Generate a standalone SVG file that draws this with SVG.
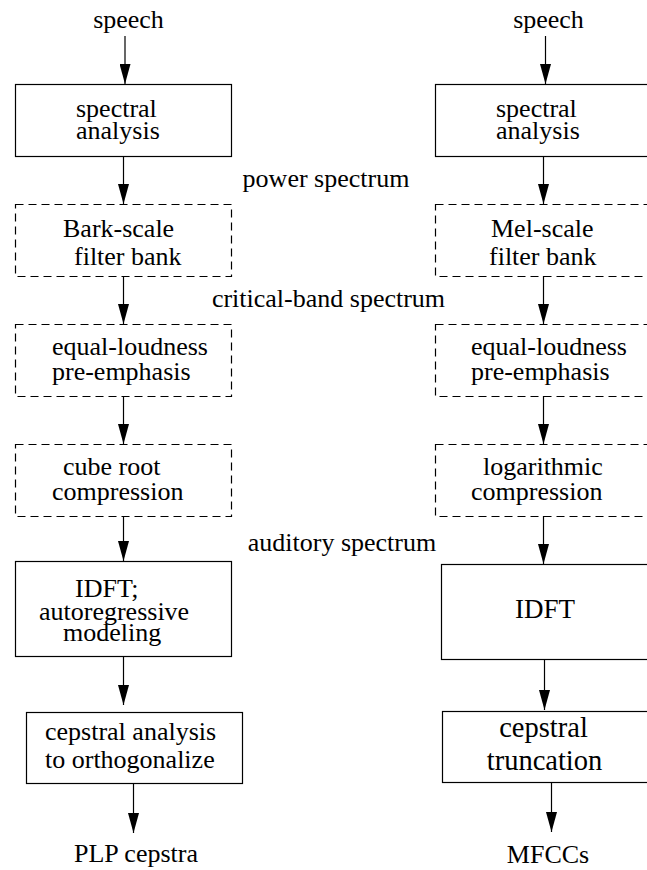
<svg xmlns="http://www.w3.org/2000/svg" width="647" height="870" viewBox="0 0 647 870">
<style>
text{font-family:'Liberation Serif','Times New Roman','DejaVu Serif',serif;font-size:26px;fill:#000}
.big{font-size:28.5px}
.box{fill:none;stroke:#000;stroke-width:1.2}
.dash{fill:none;stroke:#000;stroke-width:1.2;stroke-dasharray:8 5}
.c{text-anchor:middle}
#connectors line{stroke:#000;stroke-width:1.2;marker-end:url(#ah)}
</style>
<defs>
<marker id="ah" markerWidth="20" markerHeight="11" refX="20" refY="5.5" orient="auto" markerUnits="userSpaceOnUse"><path d="M0,0 L20,5.5 L0,11 z" fill="#000"/></marker>
</defs>
<rect width="647" height="870" fill="#fff"/>

<g id="speech-left"><text x="128.5" y="28" class="c">speech</text></g>
<g id="speech-right"><text x="548.5" y="28" class="c">speech</text></g>

<g id="spectral-left"><rect class="box" x="15.5" y="84.5" width="216" height="72"/><text x="76" y="117">spectral</text><text x="76" y="139">analysis</text></g>
<g id="bark"><rect class="dash" x="15.5" y="204.5" width="216" height="72"/><text x="63" y="237">Bark-scale</text><text x="74" y="265">filter bank</text></g>
<g id="eql-left"><rect class="dash" x="15.5" y="324.5" width="216" height="72"/><text x="52" y="355">equal-loudness</text><text x="52" y="380">pre-emphasis</text></g>
<g id="cube"><rect class="dash" x="15.5" y="444.5" width="216" height="72"/><text x="63" y="475">cube root</text><text x="52" y="500">compression</text></g>
<g id="idft-left"><rect class="box" x="15.5" y="561.5" width="216" height="95"/><text x="75" y="597">IDFT;</text><text x="39" y="620">autoregressive</text><text x="63" y="641">modeling</text></g>
<g id="cep-left"><rect class="box" x="26.5" y="712.5" width="216" height="71"/><text x="45" y="740">cepstral analysis</text><text x="45" y="768">to orthogonalize</text></g>
<g id="plp"><text x="136" y="862" class="c">PLP cepstra</text></g>

<g id="spectral-right"><rect class="box" x="435.5" y="84.5" width="230" height="72"/><text x="496" y="117">spectral</text><text x="496" y="139">analysis</text></g>
<g id="mel"><rect class="dash" x="435.5" y="204.5" width="230" height="72"/><text x="491" y="237">Mel-scale</text><text x="489" y="265">filter bank</text></g>
<g id="eql-right"><rect class="dash" x="435.5" y="324.5" width="230" height="72"/><text x="471" y="355">equal-loudness</text><text x="471" y="380">pre-emphasis</text></g>
<g id="log"><rect class="dash" x="435.5" y="444.5" width="230" height="72"/><text x="483" y="475">logarithmic</text><text x="471" y="500">compression</text></g>
<g id="idft-right"><rect class="box" x="441.5" y="564.5" width="230" height="95"/><text x="515" y="618" style="font-size:27px">IDFT</text></g>
<g id="trunc"><rect class="box" x="442.5" y="711.5" width="230" height="71"/><text x="543.5" y="737" class="c big">cepstral</text><text x="544.5" y="770" class="c big">truncation</text></g>
<g id="mfcc"><text x="548" y="863" class="c">MFCCs</text></g>

<g id="labels">
<text x="326" y="187" class="c">power spectrum</text>
<text x="328.5" y="307" class="c">critical-band spectrum</text>
<text x="342" y="551" class="c">auditory spectrum</text>
</g>

<g id="connectors">
<line x1="125" y1="36" x2="125" y2="84"/>
<line x1="123.5" y1="156" x2="123.5" y2="204"/>
<line x1="123.5" y1="276" x2="123.5" y2="324"/>
<line x1="123.5" y1="396" x2="123.5" y2="444"/>
<line x1="123.5" y1="516" x2="123.5" y2="561"/>
<line x1="123.5" y1="656" x2="123.5" y2="705"/>
<line x1="133.5" y1="783" x2="133.5" y2="833"/>
<line x1="545.5" y1="36" x2="545.5" y2="84"/>
<line x1="543.5" y1="156" x2="543.5" y2="204"/>
<line x1="543.5" y1="276" x2="543.5" y2="324"/>
<line x1="543.5" y1="396" x2="543.5" y2="444"/>
<line x1="543.5" y1="516" x2="543.5" y2="564"/>
<line x1="544.5" y1="659" x2="544.5" y2="710"/>
<line x1="551.5" y1="782" x2="551.5" y2="832"/>
</g>
</svg>
